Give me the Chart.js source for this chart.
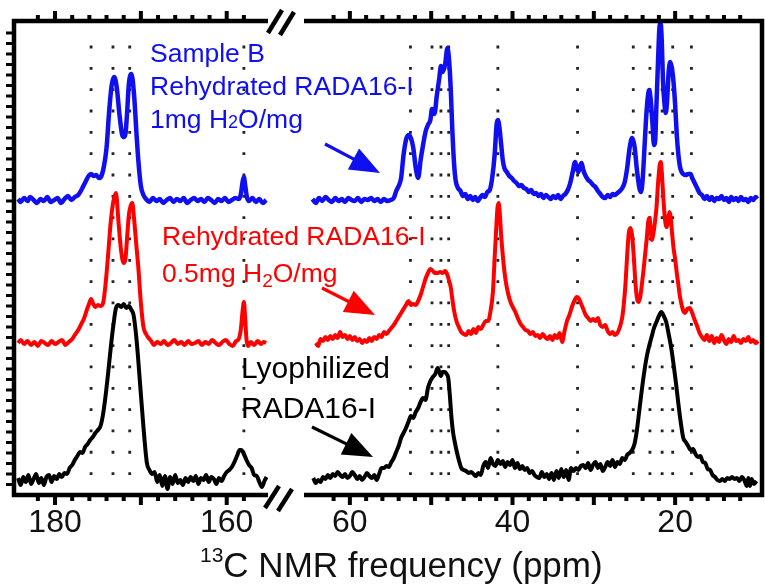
<!DOCTYPE html>
<html>
<head>
<meta charset="utf-8">
<script src="https://cdn.jsdelivr.net/npm/chart.js@4.4.1/dist/chart.umd.min.js"></script>
<style>
  html, body { margin: 0; padding: 0; background: #fff; }
  #wrap { position: relative; width: 765px; height: 587px; overflow: hidden;
          font-family: "Liberation Sans", Arial, sans-serif; }
  canvas { position: absolute; top: 0; }
  #left { left: 0; }
  #right { left: 280px; }
  #marks { position: absolute; left: 0; top: 0; }
  .note { position: absolute; white-space: nowrap; line-height: 1; }
  .blue { color: #0f0ff0; font-size: 26.5px; }
  .red { color: #ff0000; font-size: 26.5px; }
  .black { color: #000; font-size: 30px; }
  .title { color: #111; font-size: 35px; }
</style>
</head>
<body>
<div id="wrap">
  <canvas id="left" width="280" height="587"></canvas>
  <canvas id="right" width="485" height="587"></canvas>
  <svg id="marks" width="765" height="587"></svg>

  <div class="note blue" style="left:150px; top:39.6px">Sample B</div>
  <div class="note blue" style="left:150px; top:72.6px">Rehydrated RADA16-I</div>
  <div class="note blue" style="left:150px; top:105.6px">1mg H<span style="font-size:18px">2</span>O/mg</div>

  <div class="note red" style="left:162px; top:222.6px">Rehydrated RADA16-I</div>
  <div class="note red" style="left:162px; top:259.6px">0.5mg H<span style="font-size:19px; position:relative; top:5px">2</span>O/mg</div>

  <div class="note black" style="left:241px; top:352.6px">Lyophilized</div>
  <div class="note black" style="left:241px; top:392.6px">RADA16-I</div>

  <div class="note title" style="left:200px; top:547.4px"><span style="font-size:21px; position:relative; top:-15px">13</span>C NMR frequency (ppm)</div>
</div>

<script>
// labelled ticks on the split frequency axis (ppm)
const tickLabels = [180, 160, 60, 40, 20];

// ppm ranges of the two axis pieces (left: carbonyl region, right: aliphatic region)
const rangeLeft = [155.19, 184.78];
const rangeRight = [9.32, 65.64];

// dotted guide lines (ppm)
const guidesLeft = [175.8, 173.25, 171.3, 158.0];
const guidesRight = [52.55, 49.9, 48.8, 47.85, 41.8, 32.0, 25.15, 23.1, 21.6, 20.3, 18.0];

// vertical stacking of the spectra
const offsetBlue = 295;
const offsetRed = 152;
const offsetBlack = 15;

// Sample B, rehydrated 1mg H2O/mg  [ppm, intensity]
const blueLeft = [
  [184.3, 1], [184.0, -2], [183.6, 2], [183.2, -1], [182.9, 3], [182.5, 0], [182.1, -3], [181.7, 1],
  [181.3, -1], [180.9, 3], [180.5, -2], [180.1, 0], [179.7, 2], [179.3, -3], [178.9, 1], [178.5, 4],
  [178.1, 0], [177.7, 3], [177.3, 5], [177.0, 9], [176.7, 14], [176.4, 19], [176.1, 24], [175.8, 26],
  [175.5, 24], [175.2, 25], [174.9, 22], [174.6, 24], [174.3, 34], [174.0, 52], [173.7, 88], [173.4, 115],
  [173.1, 123], [172.8, 112], [172.5, 86], [172.2, 66], [172.0, 63], [171.8, 66], [171.6, 88], [171.4, 116],
  [171.1, 126], [170.8, 106], [170.5, 65], [170.3, 40], [170.0, 14], [169.7, 5], [169.4, 1], [169.0, -2],
  [168.6, 2], [168.2, -1], [167.8, 1], [167.4, -3], [167.0, 0], [166.6, 2], [166.2, -2], [165.8, 1],
  [165.4, -1], [165.0, 2], [164.6, -3], [164.2, 0], [163.8, 2], [163.4, -1], [163.0, 1], [162.6, -2],
  [162.2, 2], [161.8, 0], [161.4, -3], [161.0, 1], [160.6, -1], [160.2, 2], [159.8, -2], [159.4, 0],
  [159.0, 2], [158.6, 1], [158.35, 6], [158.15, 18], [158.0, 23], [157.85, 15], [157.65, 3], [157.4, -1],
  [157.0, 2], [156.6, -2], [156.2, 1], [155.8, -3], [155.4, 0]
];
const blueRight = [
  [64.6, 1], [64.2, -3], [63.8, 2], [63.4, -1], [63.0, 3], [62.6, 0], [62.2, -2], [61.8, 2],
  [61.4, -1], [61.0, 1], [60.6, -2], [60.2, 2], [59.8, 0], [59.4, -1], [59.0, 2], [58.6, -2],
  [58.2, 1], [57.8, 0], [57.4, 2], [57.0, -1], [56.6, 1], [56.2, -2], [55.8, 1], [55.4, -1],
  [55.0, 0], [54.6, 2], [54.3, 9], [54.0, 14], [53.7, 22], [53.4, 45], [53.1, 60], [52.8, 65],
  [52.5, 62], [52.2, 52], [51.9, 32], [51.6, 22], [51.3, 40], [51.0, 55], [50.7, 68], [50.4, 75],
  [50.1, 80], [49.9, 91], [49.6, 86], [49.3, 105], [49.0, 122], [48.8, 134], [48.6, 128], [48.3, 135],
  [48.0, 152], [47.8, 140], [47.6, 112], [47.4, 70], [47.2, 38], [47.0, 20], [46.7, 12], [46.4, 9],
  [46.1, 4], [45.8, 6], [45.5, 1], [45.2, 4], [44.9, 0], [44.6, 3], [44.3, -1], [44.0, 2],
  [43.7, 5], [43.4, 3], [43.1, 8], [42.8, 10], [42.5, 22], [42.2, 45], [41.95, 76], [41.8, 80],
  [41.6, 72], [41.4, 56], [41.2, 40], [41.0, 32], [40.7, 28], [40.4, 24], [40.1, 22], [39.8, 19],
  [39.5, 17], [39.2, 14], [38.9, 15], [38.6, 12], [38.3, 11], [38.0, 8], [37.7, 10], [37.4, 6],
  [37.1, 7], [36.8, 4], [36.5, 6], [36.2, 2], [35.9, 5], [35.6, 3], [35.3, 1], [35.0, 4],
  [34.7, 2], [34.4, 5], [34.1, 1], [33.8, 4], [33.5, 6], [33.2, 10], [32.9, 17], [32.6, 28],
  [32.3, 38], [32.1, 32], [31.9, 28], [31.7, 34], [31.5, 37], [31.3, 30], [31.0, 24], [30.7, 20],
  [30.4, 18], [30.1, 15], [29.8, 13], [29.5, 9], [29.2, 6], [28.9, 3], [28.6, 2], [28.3, 5],
  [28.0, 3], [27.7, 6], [27.4, 5], [27.1, 7], [26.8, 9], [26.5, 12], [26.2, 18], [25.9, 32],
  [25.6, 52], [25.3, 62], [25.0, 54], [24.7, 30], [24.4, 12], [24.2, 8], [24.0, 20], [23.8, 48],
  [23.6, 78], [23.4, 100], [23.2, 110], [23.0, 100], [22.8, 78], [22.6, 55], [22.45, 60], [22.3, 95],
  [22.1, 140], [21.95, 170], [21.8, 177], [21.65, 160], [21.5, 120], [21.3, 95], [21.15, 87], [21.0, 98],
  [20.8, 128], [20.6, 138], [20.4, 132], [20.2, 118], [20.0, 95], [19.8, 65], [19.6, 45], [19.4, 33],
  [19.2, 28], [19.0, 26], [18.7, 25], [18.4, 26], [18.1, 26], [17.9, 22], [17.6, 17], [17.3, 12],
  [17.0, 7], [16.7, 5], [16.4, 1], [16.1, 4], [15.8, 0], [15.5, 3], [15.2, -1], [14.9, 2],
  [14.6, 1], [14.3, 4], [14.0, 0], [13.7, 2], [13.4, -2], [13.1, 3], [12.8, 0], [12.5, 2],
  [12.2, -1], [11.9, 3], [11.6, 0], [11.3, 1], [11.0, -2], [10.7, 2], [10.4, 0], [10.1, 3], [9.9, 1]
];

// rehydrated 0.5mg H2O/mg
const redLeft = [
  [184.3, 0], [184.0, 3], [183.6, -1], [183.2, 2], [182.8, -2], [182.4, 1], [182.0, -3], [181.6, 2],
  [181.2, 0], [180.8, -2], [180.4, 2], [180.0, -1], [179.6, 1], [179.2, 3], [178.8, -2], [178.4, 1],
  [178.0, 4], [177.7, 8], [177.3, 13], [177.0, 18], [176.6, 25], [176.3, 33], [176.0, 40], [175.8, 44],
  [175.6, 40], [175.3, 36], [175.0, 38], [174.7, 37], [174.4, 40], [174.1, 60], [173.8, 90], [173.5, 122],
  [173.2, 142], [172.9, 150], [172.6, 120], [172.3, 92], [172.0, 80], [171.8, 84], [171.6, 106], [171.4, 128],
  [171.2, 137], [171.0, 140], [170.8, 125], [170.5, 95], [170.3, 76], [170.0, 40], [169.7, 16], [169.4, 9],
  [169.1, 5], [168.8, 2], [168.5, -2], [168.1, 1], [167.7, -1], [167.3, 2], [166.9, -2], [166.5, 0],
  [166.1, 3], [165.7, -1], [165.3, 1], [164.9, -2], [164.5, 2], [164.1, -1], [163.7, 0], [163.3, 2],
  [162.9, -2], [162.5, 1], [162.1, -1], [161.7, 3], [161.3, 0], [160.9, -2], [160.5, 1], [160.1, 3],
  [159.7, -1], [159.3, -3], [158.9, 2], [158.6, 4], [158.35, 14], [158.15, 32], [158.0, 41], [157.85, 25],
  [157.7, 4], [157.5, -3], [157.2, 1], [156.8, -2], [156.4, 2], [156.0, -1], [155.7, 1], [155.4, 0]
];
const redRight = [
  [64.2, 0], [63.9, -3], [63.6, 4], [63.3, 2], [63.0, 6], [62.7, 3], [62.4, 7], [62.1, 4],
  [61.8, 8], [61.5, 5], [61.2, 11], [60.9, 6], [60.6, 8], [60.3, 4], [60.0, 7], [59.7, 3],
  [59.4, 6], [59.1, 2], [58.8, 4], [58.5, 0], [58.2, 3], [57.9, 1], [57.6, 5], [57.3, 2],
  [57.0, 6], [56.7, 4], [56.4, 8], [56.1, 6], [55.8, 11], [55.5, 9], [55.2, 12], [54.9, 15],
  [54.6, 18], [54.3, 22], [54.0, 26], [53.7, 30], [53.4, 34], [53.1, 38], [52.8, 42], [52.5, 38],
  [52.2, 39], [51.9, 38], [51.6, 42], [51.3, 48], [51.0, 56], [50.7, 64], [50.4, 70], [50.1, 74],
  [49.8, 72], [49.5, 70], [49.2, 70], [48.9, 71], [48.6, 70], [48.3, 72], [48.0, 68], [47.8, 62],
  [47.6, 56], [47.4, 44], [47.2, 33], [46.9, 22], [46.6, 16], [46.3, 11], [46.0, 9], [45.7, 8],
  [45.4, 12], [45.1, 9], [44.8, 14], [44.5, 10], [44.2, 16], [43.9, 14], [43.6, 18], [43.3, 22],
  [43.0, 22], [42.7, 32], [42.4, 52], [42.2, 85], [42.0, 115], [41.85, 135], [41.7, 140], [41.55, 128],
  [41.4, 108], [41.2, 88], [41.0, 72], [40.8, 60], [40.5, 48], [40.2, 40], [39.9, 35], [39.6, 30],
  [39.3, 24], [39.0, 19], [38.7, 16], [38.4, 13], [38.1, 12], [37.8, 9], [37.5, 11], [37.2, 7],
  [36.9, 8], [36.6, 5], [36.3, 9], [36.0, 6], [35.7, 4], [35.4, 7], [35.1, 3], [34.8, 8],
  [34.5, 5], [34.2, 10], [33.9, 1], [33.6, 12], [33.3, 22], [33.0, 28], [32.7, 36], [32.4, 42],
  [32.1, 46], [31.9, 45], [31.6, 40], [31.3, 34], [31.0, 28], [30.7, 25], [30.4, 22], [30.1, 24],
  [29.8, 22], [29.5, 25], [29.2, 18], [28.9, 16], [28.6, 18], [28.3, 12], [28.0, 9], [27.7, 11],
  [27.4, 8], [27.1, 10], [26.8, 16], [26.5, 26], [26.3, 40], [26.1, 60], [25.9, 88], [25.7, 110],
  [25.5, 115], [25.3, 108], [25.1, 88], [24.9, 62], [24.7, 45], [24.5, 41], [24.3, 46], [24.1, 58],
  [23.9, 72], [23.7, 88], [23.5, 104], [23.3, 122], [23.15, 125], [23.0, 112], [22.85, 103], [22.7, 108],
  [22.5, 120], [22.3, 135], [22.1, 160], [21.9, 178], [21.75, 181], [21.6, 165], [21.45, 145], [21.3, 128],
  [21.15, 118], [21.0, 116], [20.85, 124], [20.7, 131], [20.55, 126], [20.4, 112], [20.2, 95], [20.0, 84],
  [19.8, 70], [19.6, 58], [19.4, 46], [19.2, 38], [19.0, 32], [18.8, 30], [18.5, 34], [18.2, 35],
  [17.9, 30], [17.6, 23], [17.3, 17], [17.0, 10], [16.7, 6], [16.4, 3], [16.1, 8], [15.8, 2],
  [15.5, 7], [15.2, 0], [14.9, 5], [14.6, 1], [14.3, 8], [14.0, 3], [13.7, -1], [13.4, 4],
  [13.1, 1], [12.8, 7], [12.5, 2], [12.2, 3], [11.9, 0], [11.6, 4], [11.3, 2], [11.0, 6],
  [10.7, 1], [10.4, 3], [10.1, 0], [9.8, 2]
];

// lyophilized powder
const blackLeft = [
  [184.3, 2], [184.0, -5], [183.7, 3], [183.4, -2], [183.1, 5], [182.8, -4], [182.5, 1], [182.2, 6],
  [181.9, -3], [181.6, 2], [181.3, -5], [181.0, 3], [180.7, 5], [180.4, -2], [180.1, 4], [179.8, 1],
  [179.5, 6], [179.2, 3], [178.9, 7], [178.6, 6], [178.3, 12], [178.0, 15], [177.7, 20], [177.4, 24],
  [177.1, 28], [176.8, 27], [176.5, 33], [176.2, 36], [175.9, 40], [175.6, 43], [175.3, 47], [175.0, 50],
  [174.7, 54], [174.4, 66], [174.1, 85], [173.8, 108], [173.5, 133], [173.2, 155], [172.9, 172], [172.6, 175],
  [172.3, 173], [172.0, 176], [171.7, 172], [171.4, 174], [171.1, 170], [170.85, 165], [170.5, 140], [170.1, 97],
  [169.7, 53], [169.3, 17], [169.0, 10], [168.7, 6], [168.4, 8], [168.1, -2], [167.8, 5], [167.5, -6],
  [167.2, 4], [166.9, -9], [166.6, 3], [166.3, -4], [166.0, 5], [165.7, -3], [165.4, 0], [165.1, -5],
  [164.8, 2], [164.5, -2], [164.2, 3], [163.9, -1], [163.6, 4], [163.3, -4], [163.0, 2], [162.7, 0],
  [162.4, 5], [162.1, -2], [161.8, 3], [161.5, 1], [161.2, -4], [160.9, 2], [160.6, -1], [160.3, 4],
  [160.0, 8], [159.7, 10], [159.4, 13], [159.1, 18], [158.8, 24], [158.5, 30], [158.3, 30], [158.0, 26],
  [157.7, 20], [157.4, 15], [157.1, 12], [156.8, 5], [156.5, 4], [156.2, -2], [155.9, -7], [155.6, -1],
  [155.35, 3]
];
const blackRight = [
  [64.5, 2], [64.2, -3], [63.9, 0], [63.6, -2], [63.3, 3], [63.0, 1], [62.7, 5], [62.4, 2],
  [62.1, 6], [61.8, 4], [61.5, 8], [61.2, 5], [60.9, 3], [60.6, 6], [60.3, 2], [60.0, 4],
  [59.7, 8], [59.4, 5], [59.1, 1], [58.8, 4], [58.5, 0], [58.2, 3], [57.9, 7], [57.6, 4],
  [57.3, 2], [57.0, 5], [56.7, 0], [56.4, 6], [56.1, 12], [55.8, 12], [55.5, 14], [55.2, 13],
  [54.9, 18], [54.6, 22], [54.3, 28], [54.0, 34], [53.7, 42], [53.4, 47], [53.1, 52], [52.8, 58],
  [52.5, 64], [52.2, 62], [51.9, 68], [51.6, 72], [51.3, 78], [51.0, 82], [50.7, 80], [50.4, 92],
  [50.1, 99], [49.8, 103], [49.5, 106], [49.2, 112], [49.0, 108], [48.8, 104], [48.6, 108], [48.3, 108],
  [48.1, 106], [47.9, 102], [47.7, 84], [47.5, 62], [47.3, 47], [47.1, 38], [46.9, 30], [46.6, 20],
  [46.3, 12], [46.0, 10], [45.7, 9], [45.4, 7], [45.1, 8], [44.8, 6], [44.5, 4], [44.2, 7],
  [43.9, 5], [43.6, 14], [43.3, 18], [43.0, 12], [42.7, 22], [42.4, 16], [42.1, 14], [41.8, 20],
  [41.5, 16], [41.2, 19], [40.9, 13], [40.6, 18], [40.3, 15], [40.0, 20], [39.7, 12], [39.4, 17],
  [39.1, 11], [38.8, 14], [38.5, 10], [38.2, 12], [37.9, 7], [37.6, 9], [37.3, 5], [37.0, 3],
  [36.7, 2], [36.4, 8], [36.1, 3], [35.8, 6], [35.5, 1], [35.2, 7], [34.9, 0], [34.6, 9],
  [34.3, 2], [34.0, 11], [33.7, 3], [33.4, 10], [33.1, 0], [32.8, 12], [32.5, 9], [32.2, 12],
  [31.9, 10], [31.6, 14], [31.3, 15], [31.0, 12], [30.7, 17], [30.4, 10], [30.1, 15], [29.8, 18],
  [29.5, 12], [29.2, 16], [28.9, 9], [28.6, 13], [28.3, 18], [28.0, 14], [27.7, 20], [27.4, 13],
  [27.1, 18], [26.8, 16], [26.5, 22], [26.2, 20], [25.9, 25], [25.6, 27], [25.3, 30], [25.0, 36],
  [24.7, 50], [24.4, 70], [24.1, 90], [23.8, 108], [23.5, 123], [23.2, 134], [22.9, 143], [22.6, 152],
  [22.3, 158], [22.0, 164], [21.7, 168], [21.4, 164], [21.1, 158], [20.8, 146], [20.5, 133], [20.2, 116],
  [19.9, 97], [19.6, 76], [19.3, 57], [19.0, 42], [18.7, 38], [18.4, 34], [18.1, 30], [17.8, 31],
  [17.5, 26], [17.2, 23], [16.9, 24], [16.6, 18], [16.3, 17], [16.0, 11], [15.7, 10], [15.4, 5],
  [15.1, 3], [14.8, 0], [14.5, -1], [14.2, 1], [13.9, -1], [13.6, 2], [13.3, 1], [13.0, 3],
  [12.7, 1], [12.4, 2], [12.1, -1], [11.8, 3], [11.5, 0], [11.2, -6], [11.0, 2], [10.8, -6],
  [10.6, 1], [10.3, -4], [10.0, -1]
];

const BLUE = '#0f0ff0', RED = '#ff0000', BLACK = '#000000';

function trace(points, offset, color, width) {
  return {
    data: points.map(([ppm, v]) => ({ x: ppm, y: v + offset })),
    borderColor: color,
    borderWidth: width,
    pointRadius: 0,
    fill: false,
    cubicInterpolationMode: 'monotone',
    order: 1
  };
}

// dotted vertical guide, one dot per row
function guide(ppm) {
  return {
    data: [{ x: ppm, y: 20 }, { x: ppm, y: 468 }],
    borderColor: '#222',
    borderWidth: 2.8,
    borderDash: [2.8, 18.53],
    borderCapStyle: 'butt',
    pointRadius: 0,
    order: 5
  };
}

// frame, tick marks and the left intensity ticks
const framePlugin = {
  id: 'frame',
  afterDraw(chart, args, opts) {
    const { ctx, chartArea: a, scales: { x, y } } = chart;
    ctx.save();
    ctx.strokeStyle = '#000';
    ctx.fillStyle = '#000';
    ctx.lineWidth = 4.5;
    ctx.lineJoin = 'miter';
    ctx.beginPath();
    if (opts.side === 'left') {
      ctx.moveTo(a.right, a.top);
      ctx.lineTo(a.left, a.top);
      ctx.lineTo(a.left, a.bottom);
      ctx.lineTo(a.right, a.bottom);
    } else {
      ctx.moveTo(a.left, a.top);
      ctx.lineTo(a.right, a.top);
      ctx.lineTo(a.right, a.bottom);
      ctx.lineTo(a.left, a.bottom);
    }
    ctx.stroke();

    x.ticks.forEach(t => {
      if (t.value % 2 !== 0) return;
      const px = x.getPixelForValue(t.value);
      const len = t.value % 10 === 0 ? 10 : 6;
      ctx.fillRect(px - 2, a.bottom, 4, len);
      ctx.fillRect(px - 2, a.top - len, 4, len);
    });

    if (opts.side === 'left') {
      y.ticks.forEach(t => {
        if (t.value <= 2 || t.value >= y.max - 2) return;
        const py = y.getPixelForValue(t.value);
        ctx.fillRect(a.left - 8, py - 1.5, 8, 3);
      });
    }
    ctx.restore();
  }
};

function makeChart(id, range, datasets, side, padding) {
  return new Chart(document.getElementById(id), {
    type: 'line',
    data: { datasets },
    options: {
      responsive: false,
      animation: false,
      devicePixelRatio: 1,
      layout: { padding },
      plugins: {
        legend: { display: false },
        tooltip: { enabled: false },
        frame: { side }
      },
      scales: {
        x: {
          type: 'linear',
          reverse: true,
          min: range[0],
          max: range[1],
          afterFit(scale) { scale.height = 92; },
          grid: { display: true, drawOnChartArea: false, drawTicks: true, tickLength: 8, color: 'rgba(0,0,0,0)' },
          border: { display: false },
          ticks: {
            stepSize: 2,
            autoSkip: false,
            maxRotation: 0,
            minRotation: 0,
            padding: 1,
            color: '#111',
            font: { family: '"Liberation Sans", Arial, sans-serif', size: 32 },
            callback: v => tickLabels.includes(v) ? String(v) : ''
          }
        },
        y: {
          display: side === 'left',
          min: 0,
          max: 474,
          afterFit(scale) { scale.width = 14; },
          grid: { display: false },
          border: { display: false },
          ticks: { display: false, stepSize: 10.5 }
        }
      }
    },
    plugins: [framePlugin]
  });
}

makeChart('left', rangeLeft, [
  trace(blueLeft, offsetBlue, BLUE, 4.5),
  trace(redLeft, offsetRed, RED, 4),
  trace(blackLeft, offsetBlack, BLACK, 4),
  ...guidesLeft.map(guide)
], 'left', { left: 0, right: 12, top: 21, bottom: 0 });

makeChart('right', rangeRight, [
  trace(blueRight, offsetBlue, BLUE, 4.5),
  trace(redRight, offsetRed, RED, 4),
  trace(blackRight, offsetBlack, BLACK, 4),
  ...guidesRight.map(guide)
], 'right', { left: 10, right: 3, top: 21, bottom: 0 });

// axis break marks and the label arrows
const svg = document.getElementById('marks');
const NS = 'http://www.w3.org/2000/svg';

function el(tag, attrs) {
  const node = document.createElementNS(NS, tag);
  for (const k in attrs) node.setAttribute(k, attrs[k]);
  svg.appendChild(node);
  return node;
}

function slash(x1, y1, x2, y2) {
  el('line', { x1, y1, x2, y2, stroke: '#000', 'stroke-width': 4.5 });
}

function arrow(x1, y1, x2, y2, color) {
  const dx = x2 - x1, dy = y2 - y1;
  const d = Math.hypot(dx, dy), ux = dx / d, uy = dy / d;
  const head = 30, half = 12;
  const bx = x2 - ux * head, by = y2 - uy * head;
  el('line', { x1, y1, x2: bx + ux * 2, y2: by + uy * 2, stroke: color, 'stroke-width': 3.2 });
  el('polygon', {
    points: `${x2},${y2} ${bx - uy * half},${by + ux * half} ${bx + uy * half},${by - ux * half}`,
    fill: color
  });
}

slash(268, 33, 282, 10);
slash(280, 35, 294, 12);
slash(265, 508, 279, 486);
slash(278, 511, 292, 489);

arrow(325, 144, 380, 173, BLUE);
arrow(322, 288, 375, 315, RED);
arrow(312, 427, 373, 457, BLACK);
</script>
</body>
</html>
